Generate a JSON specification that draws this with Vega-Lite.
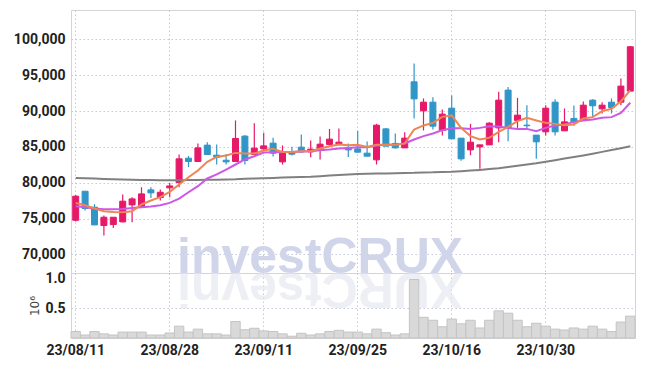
{
  "$schema": "https://vega.github.io/schema/vega-lite/v6.json",
  "padding": {"left": 12, "top": 9, "right": 5, "bottom": 5},
  "background": "white",
  "spacing": 0,
  "bounds": "flush",
  "resolve": {"scale": {"x": "shared"}},
  "data": {"values": [
    {"d":"23/08/11","o":74760,"h":78300,"l":74600,"c":78120,"m5":77180,"m10":76720,"m120":80670,"v":110000},
    {"d":"23/08/14","o":78810,"h":78810,"l":76120,"c":76400,"m5":76860,"m10":76580,"m120":80630,"v":50000},
    {"d":"23/08/16","o":76580,"h":77000,"l":74070,"c":74110,"m5":76400,"m10":76400,"m120":80570,"v":110000},
    {"d":"23/08/17","o":74020,"h":75420,"l":72630,"c":75180,"m5":76020,"m10":76300,"m120":80520,"v":70000},
    {"d":"23/08/18","o":74160,"h":75180,"l":73690,"c":75180,"m5":75920,"m10":76300,"m120":80480,"v":50000},
    {"d":"23/08/21","o":74530,"h":78350,"l":74480,"c":77420,"m5":75880,"m10":76340,"m120":80450,"v":100000},
    {"d":"23/08/22","o":76900,"h":77980,"l":74480,"c":77740,"m5":76020,"m10":76480,"m120":80420,"v":100000},
    {"d":"23/08/23","o":76680,"h":79370,"l":76600,"c":78440,"m5":76960,"m10":76580,"m120":80390,"v":100000},
    {"d":"23/08/24","o":79000,"h":79370,"l":77880,"c":78580,"m5":77520,"m10":76680,"m120":80380,"v":50000},
    {"d":"23/08/25","o":77930,"h":79050,"l":77520,"c":78670,"m5":77980,"m10":76860,"m120":80360,"v":50000},
    {"d":"23/08/28","o":79280,"h":79970,"l":77980,"c":79550,"m5":78720,"m10":77180,"m120":80350,"v":85000},
    {"d":"23/08/29","o":80030,"h":83940,"l":79370,"c":83330,"m5":79750,"m10":77790,"m120":80360,"v":200000},
    {"d":"23/08/30","o":83420,"h":83740,"l":82170,"c":82960,"m5":80770,"m10":78670,"m120":80380,"v":100000},
    {"d":"23/08/31","o":82960,"h":85480,"l":82900,"c":84860,"m5":81710,"m10":79510,"m120":80390,"v":150000},
    {"d":"23/09/01","o":85240,"h":85660,"l":83900,"c":83940,"m5":82910,"m10":80590,"m120":80410,"v":70000},
    {"d":"23/09/04","o":83840,"h":85330,"l":82540,"c":83560,"m5":83600,"m10":81150,"m120":80420,"v":70000},
    {"d":"23/09/05","o":83140,"h":84020,"l":82540,"c":82910,"m5":83800,"m10":81840,"m120":80460,"v":50000},
    {"d":"23/09/06","o":82960,"h":88690,"l":82960,"c":86170,"m5":84160,"m10":82540,"m120":80490,"v":280000},
    {"d":"23/09/07","o":86500,"h":86640,"l":82540,"c":83100,"m5":84080,"m10":83240,"m120":80550,"v":140000},
    {"d":"23/09/08","o":83940,"h":88310,"l":83900,"c":84820,"m5":84080,"m10":83700,"m120":80590,"v":165000},
    {"d":"23/09/11","o":84720,"h":86960,"l":84500,"c":85140,"m5":84500,"m10":84220,"m120":80630,"v":120000},
    {"d":"23/09/12","o":85520,"h":86260,"l":83660,"c":84120,"m5":84720,"m10":84260,"m120":80670,"v":110000},
    {"d":"23/09/13","o":82910,"h":85200,"l":82540,"c":84120,"m5":84300,"m10":84300,"m120":80710,"v":70000},
    {"d":"23/09/14","o":84160,"h":85000,"l":83800,"c":83980,"m5":84300,"m10":84300,"m120":80760,"v":30000},
    {"d":"23/09/15","o":84960,"h":86730,"l":84160,"c":84300,"m5":84400,"m10":84360,"m120":80800,"v":80000},
    {"d":"23/09/18","o":84300,"h":85890,"l":83560,"c":84680,"m5":84400,"m10":84400,"m120":80840,"v":50000},
    {"d":"23/09/19","o":84640,"h":86450,"l":83240,"c":85380,"m5":84780,"m10":84540,"m120":80910,"v":70000},
    {"d":"23/09/20","o":85340,"h":87510,"l":85200,"c":86080,"m5":85100,"m10":84640,"m120":80990,"v":110000},
    {"d":"23/09/21","o":85420,"h":87570,"l":85420,"c":85660,"m5":85340,"m10":84780,"m120":81080,"v":130000},
    {"d":"23/09/22","o":84860,"h":85480,"l":83600,"c":84580,"m5":85240,"m10":84860,"m120":81160,"v":100000},
    {"d":"23/09/25","o":84720,"h":87240,"l":84200,"c":84260,"m5":85280,"m10":84960,"m120":81220,"v":100000},
    {"d":"23/09/26","o":84120,"h":85760,"l":83700,"c":83700,"m5":85000,"m10":84960,"m120":81240,"v":70000},
    {"d":"23/09/27","o":83190,"h":88210,"l":82540,"c":88030,"m5":85280,"m10":85200,"m120":81270,"v":150000},
    {"d":"23/10/04","o":87510,"h":87650,"l":85100,"c":85100,"m5":85280,"m10":85280,"m120":81300,"v":90000},
    {"d":"23/10/05","o":85480,"h":86870,"l":84780,"c":84860,"m5":85280,"m10":85280,"m120":81330,"v":50000},
    {"d":"23/10/06","o":84860,"h":87050,"l":84860,"c":86220,"m5":85480,"m10":85480,"m120":81360,"v":70000},
    {"d":"23/10/10","o":94080,"h":96650,"l":88970,"c":91700,"m5":87430,"m10":86030,"m120":81380,"v":990000},
    {"d":"23/10/11","o":90030,"h":91760,"l":87290,"c":91240,"m5":87990,"m10":86500,"m120":81430,"v":350000},
    {"d":"23/10/12","o":91240,"h":91940,"l":87430,"c":87890,"m5":88350,"m10":86870,"m120":81450,"v":300000},
    {"d":"23/10/13","o":87290,"h":90220,"l":86590,"c":89570,"m5":89190,"m10":87330,"m120":81500,"v":190000},
    {"d":"23/10/16","o":90400,"h":92180,"l":86120,"c":86120,"m5":89390,"m10":87610,"m120":81540,"v":320000},
    {"d":"23/10/17","o":86220,"h":86220,"l":83050,"c":83330,"m5":87650,"m10":87610,"m120":81610,"v":240000},
    {"d":"23/10/18","o":84580,"h":88210,"l":83840,"c":85660,"m5":86500,"m10":87510,"m120":81690,"v":300000},
    {"d":"23/10/19","o":85000,"h":85280,"l":81930,"c":85280,"m5":86030,"m10":87650,"m120":81790,"v":170000},
    {"d":"23/10/20","o":85280,"h":88450,"l":85280,"c":88310,"m5":86260,"m10":87890,"m120":81900,"v":300000},
    {"d":"23/10/23","o":87650,"h":92680,"l":85660,"c":91520,"m5":87100,"m10":87850,"m120":82030,"v":460000},
    {"d":"23/10/24","o":92920,"h":93340,"l":85800,"c":87650,"m5":87790,"m10":87650,"m120":82190,"v":420000},
    {"d":"23/10/25","o":88690,"h":91840,"l":87650,"c":89430,"m5":88590,"m10":87510,"m120":82360,"v":300000},
    {"d":"23/10/26","o":88030,"h":90820,"l":87650,"c":87950,"m5":89050,"m10":87510,"m120":82540,"v":190000},
    {"d":"23/10/27","o":86640,"h":86640,"l":83330,"c":85700,"m5":88690,"m10":87190,"m120":82720,"v":250000},
    {"d":"23/10/30","o":87100,"h":90820,"l":86590,"c":90400,"m5":88350,"m10":87650,"m120":82930,"v":200000},
    {"d":"23/10/31","o":91240,"h":91660,"l":86590,"c":87100,"m5":88210,"m10":87990,"m120":83140,"v":150000},
    {"d":"23/11/01","o":87240,"h":90360,"l":87240,"c":88490,"m5":88030,"m10":88130,"m120":83370,"v":135000},
    {"d":"23/11/02","o":88970,"h":90780,"l":87990,"c":88490,"m5":88130,"m10":88490,"m120":83590,"v":170000},
    {"d":"23/11/03","o":88690,"h":91340,"l":88690,"c":90820,"m5":88970,"m10":88690,"m120":83810,"v":150000},
    {"d":"23/11/06","o":91520,"h":91660,"l":89150,"c":90730,"m5":89150,"m10":88830,"m120":84050,"v":200000},
    {"d":"23/11/07","o":90310,"h":91240,"l":89670,"c":90820,"m5":89990,"m10":89050,"m120":84300,"v":150000},
    {"d":"23/11/08","o":91240,"h":91760,"l":89670,"c":90500,"m5":90310,"m10":89150,"m120":84550,"v":110000},
    {"d":"23/11/09","o":91240,"h":94550,"l":90820,"c":93480,"m5":91380,"m10":89750,"m120":84820,"v":270000},
    {"d":"23/11/10","o":92780,"h":99060,"l":92780,"c":98970,"m5":92880,"m10":91150,"m120":85100,"v":370000}
  ]},
  "config": {
    "view": {"stroke": "#d4d4d4", "strokeWidth": 1},
    "concat": {"spacing": 0},
    "axis": {
      "labelFont": "Roboto",
      "labelFontWeight": "bold",
      "labelFontSize": 14,
      "labelColor": "#222222",
      "gridColor": "#c5c9dc",
      "gridDash": [1.5, 2.5],
      "gridWidth": 1,
      "ticks": false,
      "domain": false
    }
  },
  "vconcat": [
    {
      "width": 564,
      "height": 263,
      "encoding": {
        "x": {
          "field": "d", "type": "ordinal",
          "scale": {"paddingInner": 0, "paddingOuter": 0},
          "axis": {"values": ["23/08/11","23/08/28","23/09/11","23/09/25","23/10/16","23/10/30"], "labels": false, "title": null, "bandPosition": 0.5, "grid": true, "minExtent": 0, "maxExtent": 0, "labelPadding": 0}
        }
      },
      "layer": [
        {
          "data": {"values": [{"wm": "investCRUX"}]},
          "mark": {"type": "text", "font": "Liberation Sans", "fontWeight": "bold", "fontSize": 50, "color": "#d0d5e9", "baseline": "alphabetic", "align": "center"},
          "encoding": {
            "x": {"datum": "23/09/19", "type": "ordinal"},
            "y": {"datum": 67400, "type": "quantitative", "scale": {"domain": [67400, 104100], "nice": false, "zero": false},
                  "axis": {"values": [70000,75000,80000,85000,90000,95000,100000], "labelExpr": "format(datum.value, ',')", "labelPadding": 6, "title": null, "grid": true}},
            "text": {"field": "wm"}
          }
        },
        {
          "mark": {"type": "rule", "strokeWidth": 1.2},
          "encoding": {
            "y": {"field": "l", "type": "quantitative"},
            "y2": {"field": "h"},
            "color": {"condition": {"test": "datum.c >= datum.o", "value": "#e61969"}, "value": "#3096c8"}
          }
        },
        {
          "mark": {"type": "bar", "size": 6, "strokeWidth": 1},
          "encoding": {
            "y": {"field": "o", "type": "quantitative"},
            "y2": {"field": "c"},
            "fill": {"condition": {"test": "datum.c >= datum.o", "value": "#e61969"}, "value": "#3096c8"},
            "stroke": {"condition": {"test": "datum.c >= datum.o", "value": "#e61969"}, "value": "#3096c8"}
          }
        },
        {
          "mark": {"type": "line", "color": "#808080", "strokeWidth": 2},
          "encoding": {"y": {"field": "m120", "type": "quantitative"}}
        },
        {
          "mark": {"type": "line", "color": "#cc58e6", "strokeWidth": 2},
          "encoding": {"y": {"field": "m10", "type": "quantitative"}}
        },
        {
          "mark": {"type": "line", "color": "#ef8552", "strokeWidth": 2},
          "encoding": {"y": {"field": "m5", "type": "quantitative"}}
        }
      ]
    },
    {
      "width": 564,
      "height": 65,
      "encoding": {
        "x": {
          "field": "d", "type": "ordinal",
          "axis": {"values": ["23/08/11","23/08/28","23/09/11","23/09/25","23/10/16","23/10/30"], "labelAngle": 0, "labelPadding": 5, "title": null, "bandPosition": 0.5, "grid": true}
        }
      },
      "layer": [
        {
          "data": {"values": [{"wm": "XURCtsevni"}]},
          "mark": {"type": "text", "font": "Liberation Sans", "fontWeight": "bold", "fontSize": 50, "color": "#e6e8f1", "opacity": 0.65, "baseline": "alphabetic", "align": "center", "angle": 180},
          "encoding": {
            "x": {"datum": "23/09/19", "type": "ordinal"},
            "y": {"datum": 1100000, "type": "quantitative", "scale": {"domain": [0, 1100000], "nice": false},
                  "axis": {"values": [500000, 1000000], "labelExpr": "format(datum.value / 1000000, '.1f')", "labelPadding": 6, "title": "10⁶", "titleFont": "DejaVu Sans", "titleFontWeight": "normal", "titleFontSize": 12, "titleColor": "#444444", "titlePadding": 3, "grid": true,
                           "gridOpacity": {"condition": {"test": "datum.value > 600000", "value": 0}, "value": 1}}},
            "text": {"field": "wm"}
          }
        },
        {
          "mark": {"type": "bar", "color": "#d9d9d9", "stroke": "#c4c4c4", "strokeWidth": 1},
          "encoding": {
            "y": {"field": "v", "type": "quantitative"}
          }
        }
      ]
    }
  ]
}
